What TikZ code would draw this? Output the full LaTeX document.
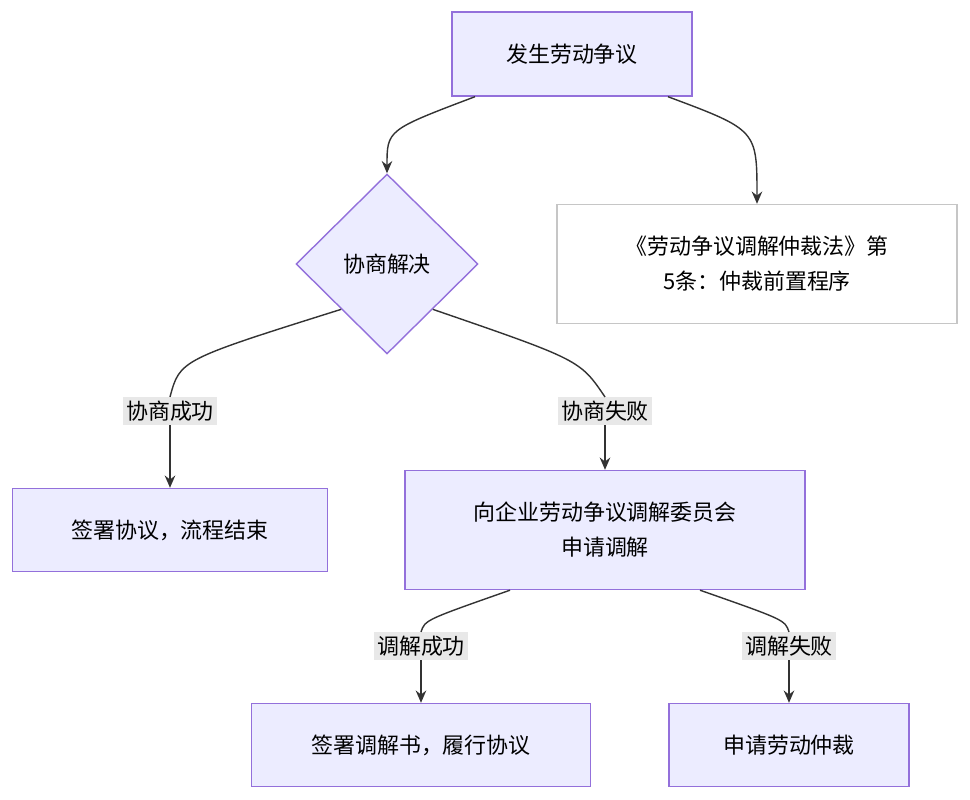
\documentclass[tikz,border=0pt]{standalone}
\usepackage{fontspec}
\setmainfont{Noto Sans CJK SC}
\usetikzlibrary{shapes.geometric,arrows.meta}
\definecolor{boxfill}{HTML}{ECECFF}
\definecolor{boxline}{HTML}{9370DB}
\definecolor{lablfill}{HTML}{E8E8E8}
\tikzset{
  procbox/.style={draw=boxline,fill=boxfill,line width=0.8pt,align=center,
    font=\fontsize{12.5}{20}\selectfont},
  note/.style={draw=gray!45,fill=white,line width=0.8pt,align=center,
    font=\fontsize{12.5}{20}\selectfont},
  edgelabel/.style={fill=lablfill,inner sep=2pt,font=\fontsize{12.5}{15}\selectfont},
  flow/.style={draw=black!80,line width=0.8pt},
  flowarrow/.style={flow,-{Stealth[length=7pt,width=6pt]}}
}
\begin{document}
\begin{tikzpicture}[x=0.02cm,y=-0.02cm]
\useasboundingbox (0,0) rectangle (970,800);
% boxes
\node[procbox,minimum width=4.8cm,minimum height=1.68cm] (dispute) at (572,54) {发生劳动争议};
\node[procbox,shape=diamond,minimum width=3.64cm,minimum height=3.6cm,inner sep=0pt] (talk) at (387,264) {协商解决};
\node[note,minimum width=8cm,minimum height=2.38cm] (law) at (757,264) {《劳动争议调解仲裁法》第\\5条：仲裁前置程序};
\node[procbox,minimum width=6.3cm,minimum height=1.66cm] (agree) at (170,530) {签署协议，流程结束};
\node[procbox,minimum width=8cm,minimum height=2.38cm] (mediate) at (605,530) {向企业劳动争议调解委员会\\申请调解};
\node[procbox,minimum width=6.78cm,minimum height=1.66cm] (sign) at (421,745) {签署调解书，履行协议};
\node[procbox,minimum width=4.8cm,minimum height=1.66cm] (arbit) at (789,745) {申请劳动仲裁};
% edge labels
\node[edgelabel] (ok1) at (170,411) {协商成功};
\node[edgelabel] (fail1) at (605,411) {协商失败};
\node[edgelabel] (ok2) at (421,646) {调解成功};
\node[edgelabel] (fail2) at (789,646) {调解失败};
% connectors
\draw[flowarrow] ([xshift=-1.94cm]dispute.south) .. controls (387,130) .. (talk.north);
\draw[flowarrow] ([xshift=1.92cm]dispute.south) .. controls (757,130) .. (law.north);
\draw[flow] (talk.south west) .. controls (180,360) .. (ok1.north);
\draw[flowarrow] (ok1.south) -- (agree.north);
\draw[flow] (talk.south east) .. controls (580,360) .. (fail1.north);
\draw[flowarrow] (fail1.south) -- (mediate.north);
\draw[flow] ([xshift=-1.9cm]mediate.south) .. controls (425,620) .. (ok2.north);
\draw[flowarrow] (ok2.south) -- (sign.north);
\draw[flow] ([xshift=1.9cm]mediate.south) .. controls (785,620) .. (fail2.north);
\draw[flowarrow] (fail2.south) -- (arbit.north);
\end{tikzpicture}
\end{document}
